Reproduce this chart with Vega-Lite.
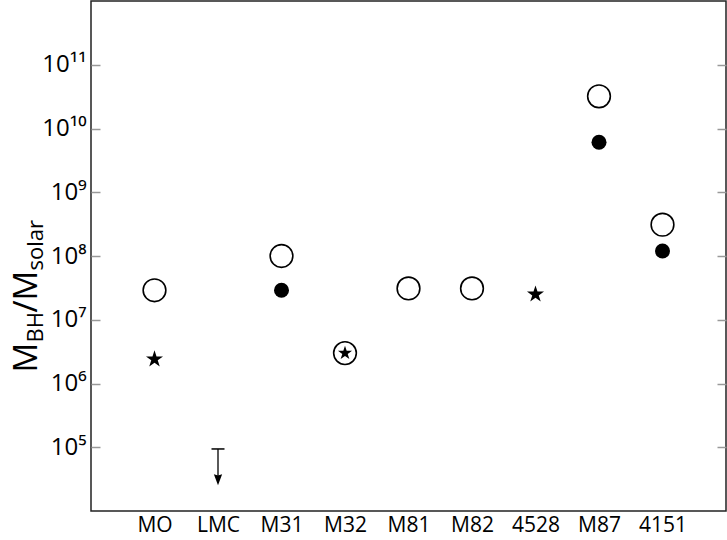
{
  "$schema": "https://vega.github.io/schema/vega-lite/v6.json",
  "autosize": {"type": "none"},
  "padding": {"left": 91, "top": 1, "right": 1, "bottom": 29},
  "width": 635,
  "height": 510,
  "background": "white",
  "config": {"view": {"stroke": "#222", "strokeWidth": 1.5}, "font": "Open Sans"},
  "datasets": {
    "pts": [
      {"galaxy": "MO", "type": "open", "mass": 2.9e7},
      {"galaxy": "MO", "type": "star", "mass": 2.4e6},
      {"galaxy": "M31", "type": "open", "mass": 1.0e8},
      {"galaxy": "M31", "type": "filled", "mass": 2.9e7},
      {"galaxy": "M32", "type": "open", "mass": 3.0e6},
      {"galaxy": "M32", "type": "smallstar", "mass": 3.0e6},
      {"galaxy": "M81", "type": "open", "mass": 3.1e7},
      {"galaxy": "M82", "type": "open", "mass": 3.1e7},
      {"galaxy": "4528", "type": "star", "mass": 2.5e7},
      {"galaxy": "M87", "type": "open", "mass": 3.2e10},
      {"galaxy": "M87", "type": "filled", "mass": 6.1e9},
      {"galaxy": "4151", "type": "open", "mass": 3.1e8},
      {"galaxy": "4151", "type": "filled", "mass": 1.2e8}
    ],
    "limit": [
      {"galaxy": "LMC", "upper": 9.4e4, "tip": 3.1e4}
    ]
  },
  "resolve": {"axis": {"y": "independent"}, "scale": {"y": "shared"}},
  "layer": [
    {
      "data": {"name": "pts"},
      "transform": [{"filter": "datum.type == 'open'"}],
      "mark": {"type": "point", "shape": "circle", "filled": false, "stroke": "black", "strokeWidth": 1.6, "size": 515, "opacity": 1},
      "encoding": {
        "x": {"field": "galaxy", "type": "nominal",
          "scale": {"type": "point", "domain": ["MO", "LMC", "M31", "M32", "M81", "M82", "4528", "M87", "4151"], "padding": 1.05},
          "axis": {"title": null, "domain": false, "ticks": false, "labelAngle": 0, "labelFontSize": 21, "labelColor": "black", "labelPadding": 3, "labelFont": "Open Sans"}},
        "y": {"field": "mass", "type": "quantitative",
          "scale": {"type": "log", "domain": [1e4, 1e12], "nice": false},
          "axis": {"orient": "left", "values": [1e5, 1e6, 1e7, 1e8, 1e9, 1e10, 1e11],
            "labelExpr": "['','','','','','10⁵','10⁶','10⁷','10⁸','10⁹','10¹⁰','10¹¹'][round(log(datum.value)/LN10)]",
            "domain": false, "grid": false, "tickSize": -9, "tickColor": "#999", "tickWidth": 1.5,
            "labelFontSize": 24, "labelColor": "black", "labelPadding": 14, "labelFont": "Open Sans",
            "title": "M", "titleFontSize": 33, "titleFont": "Open Sans", "titleFontWeight": "normal", "titleColor": "black",
            "titleAngle": -90, "titleAlign": "left", "titleBaseline": "alphabetic", "titleX": -55, "titleY": 371}}
      }
    },
    {
      "data": {"name": "pts"},
      "transform": [{"filter": "datum.type == 'filled'"}],
      "mark": {"type": "circle", "color": "black", "size": 225, "opacity": 1},
      "encoding": {
        "x": {"field": "galaxy", "type": "nominal"},
        "y": {"field": "mass", "type": "quantitative",
          "axis": {"orient": "right", "values": [1e5, 1e6, 1e7, 1e8, 1e9, 1e10, 1e11], "labels": false, "domain": false, "grid": false,
            "tickSize": -9, "tickColor": "#999", "tickWidth": 1.5, "title": null}}
      }
    },
    {
      "data": {"name": "pts"},
      "transform": [{"filter": "datum.type == 'star'"}],
      "mark": {"type": "point", "shape": "M0,-1L0.2245,-0.309L0.9511,-0.309L0.3633,0.118L0.5878,0.809L0,0.382L-0.5878,0.809L-0.3633,0.118L-0.9511,-0.309L-0.2245,-0.309Z", "filled": true, "color": "black", "size": 320, "opacity": 1, "strokeWidth": 0},
      "encoding": {
        "x": {"field": "galaxy", "type": "nominal"},
        "y": {"field": "mass", "type": "quantitative",
          "axis": {"orient": "left", "labels": false, "ticks": false, "domain": false, "grid": false,
            "title": "BH", "titleFontSize": 22, "titleFont": "Open Sans", "titleFontWeight": "normal", "titleColor": "black",
            "titleAngle": -90, "titleAlign": "left", "titleBaseline": "alphabetic", "titleX": -49, "titleY": 341}}
      }
    },
    {
      "data": {"name": "pts"},
      "transform": [{"filter": "datum.type == 'smallstar'"}],
      "mark": {"type": "point", "shape": "M0,-1L0.2245,-0.309L0.9511,-0.309L0.3633,0.118L0.5878,0.809L0,0.382L-0.5878,0.809L-0.3633,0.118L-0.9511,-0.309L-0.2245,-0.309Z", "filled": true, "color": "black", "size": 220, "opacity": 1, "strokeWidth": 0},
      "encoding": {
        "x": {"field": "galaxy", "type": "nominal"},
        "y": {"field": "mass", "type": "quantitative",
          "axis": {"orient": "left", "labels": false, "ticks": false, "domain": false, "grid": false,
            "title": "/M", "titleFontSize": 33, "titleFont": "Open Sans", "titleFontWeight": "normal", "titleColor": "black",
            "titleAngle": -90, "titleAlign": "left", "titleBaseline": "alphabetic", "titleX": -55, "titleY": 311}}
      }
    },
    {
      "data": {"name": "limit"},
      "mark": {"type": "rule", "color": "black", "strokeWidth": 1.3},
      "encoding": {
        "x": {"field": "galaxy", "type": "nominal"},
        "y": {"field": "upper", "type": "quantitative",
          "axis": {"orient": "left", "labels": false, "ticks": false, "domain": false, "grid": false,
            "title": "solar", "titleFontSize": 22, "titleFont": "Open Sans", "titleFontWeight": "normal", "titleColor": "black",
            "titleAngle": -90, "titleAlign": "left", "titleBaseline": "alphabetic", "titleX": -49, "titleY": 269}},
        "y2": {"field": "tip"}
      }
    },
    {
      "data": {"name": "limit"},
      "mark": {"type": "tick", "orient": "horizontal", "color": "black", "size": 13, "thickness": 1.5, "opacity": 1},
      "encoding": {
        "x": {"field": "galaxy", "type": "nominal"},
        "y": {"field": "upper", "type": "quantitative", "axis": null}
      }
    },
    {
      "data": {"name": "limit"},
      "mark": {"type": "point", "shape": "M-0.75,-1L0,-0.75L0.75,-1L0,1Z", "filled": true, "color": "black", "size": 121, "opacity": 1, "strokeWidth": 0},
      "encoding": {
        "x": {"field": "galaxy", "type": "nominal"},
        "y": {"field": "tip", "type": "quantitative", "axis": null}
      }
    }
  ]
}
